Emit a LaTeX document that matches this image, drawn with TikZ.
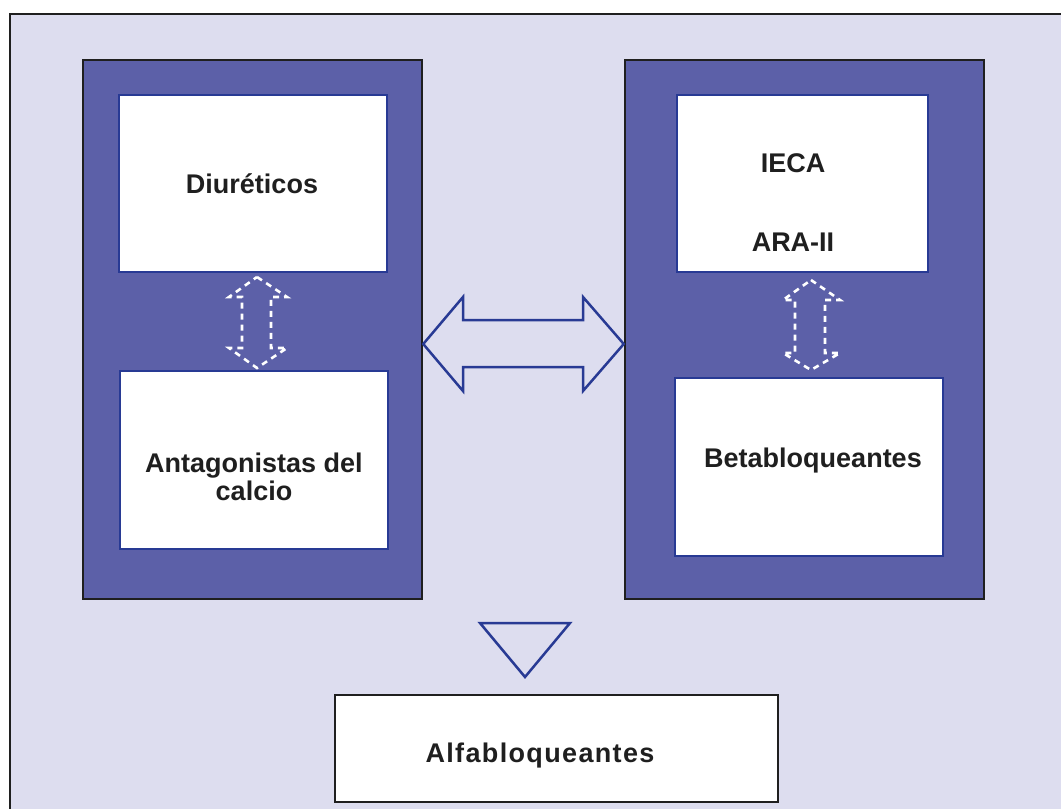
\documentclass[tikz,border=0pt]{standalone}
\usepackage{fontspec}
\setmainfont{Liberation Sans}
\begin{document}
\begin{tikzpicture}[x=1pt,y=-1pt,
  darkbox/.style={draw=black!88,line width=2.5pt,fill=panel,minimum width=#1,inner sep=0pt},
  whitebox/.style={draw=lineblue,line width=2.5pt,fill=white,inner sep=0pt},
  lbl/.style={font=\bfseries\fontsize{27}{28.5}\selectfont,text=black!88,align=center,inner sep=0pt},
  outline/.style={draw=lineblue,line width=2.5pt,line join=miter},
  dotarrow/.style={draw=white,line width=2.6pt,dash pattern=on 6pt off 5pt}]
\definecolor{bg}{RGB}{221,221,239}
\definecolor{panel}{RGB}{92,96,168}
\definecolor{lineblue}{RGB}{40,58,148}
\useasboundingbox (0,0) rectangle (1061,809);
\clip (0,0) rectangle (1061,809);
\fill[white] (0,0) rectangle (1061,809);
\draw[draw=black!88,line width=2.5pt,fill=bg] (10,14) rectangle (1080,830);
% panels
\node[darkbox=339pt,minimum height=539pt] (L) at (252.5,329.5) {};
\node[darkbox=359pt,minimum height=539pt] (R) at (804.5,329.5) {};
% inner boxes
\node[whitebox,minimum width=268pt,minimum height=177pt] (lt) at (253,183.5) {};
\node[whitebox,minimum width=268pt,minimum height=178pt] (lb) at (254,460) {};
\node[whitebox,minimum width=251pt,minimum height=177pt] (rt) at (802.5,183.5) {};
\node[whitebox,minimum width=268pt,minimum height=178pt] (rb) at (809,467) {};
\node[draw=black!88,line width=2.5pt,fill=white,minimum width=443pt,minimum height=107pt,inner sep=0pt] (alfa) at (556.5,748.5) {};
% labels
\node[lbl] (t1) at (252,184) {Diuréticos};
\node[lbl] (t2) at (254,477) {Antagonistas del\\calcio};
\node[lbl] (t3) at (793,163) {IECA};
\node[lbl] (t4) at (793,242) {ARA-II};
\node[lbl] (t5) at (813,461) {Betabloqueantes};
\node[lbl,font=\bfseries\fontsize{27}{28.5}\selectfont\addfontfeature{LetterSpace=5}] (t6) at (540,756) {Alfabloqueantes};
% big double arrow between panels
\coordinate (ltip) at (L.east |- 0,344);
\coordinate (rtip) at (R.west |- 0,344);
\draw[outline,fill=bg] (ltip) -- (463,297) -- (463,320) -- (583,320) -- (583,297) -- (rtip)
  -- (583,391) -- (583,367) -- (463,367) -- (463,391) -- cycle;
% dashed double arrows
\draw[dotarrow] (257,277) -- (287,297) -- (271,297) -- (271,348) -- (287,348) -- (257,368)
  -- (229,348) -- (242,348) -- (242,297) -- (229,297) -- cycle;
\draw[dotarrow] (811,280) -- (840,300) -- (825,300) -- (825,353) -- (840,353) -- (811,370)
  -- (783,353) -- (795,353) -- (795,300) -- (783,300) -- cycle;
% down triangle
\draw[outline] (480,623) -- (570,623) -- (525,677) -- cycle;
\end{tikzpicture}
\end{document}
